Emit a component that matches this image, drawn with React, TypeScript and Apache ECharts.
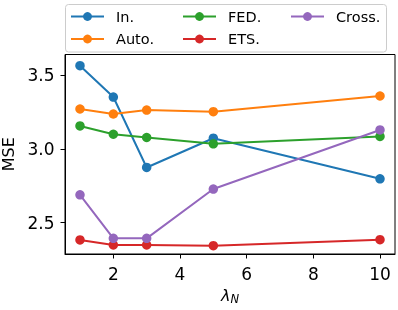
import React, { useEffect, useRef } from "react";
import * as echarts from "echarts";

const lambdas = [1, 2, 3, 5, 10];
const inVals = [3.563, 3.351, 2.874, 3.072, 2.797];
const autoVals = [3.27, 3.236, 3.263, 3.252, 3.358];
const fedVals = [3.155, 3.099, 3.077, 3.034, 3.084];
const etsVals = [2.383, 2.349, 2.349, 2.344, 2.385];
const crossVals = [2.689, 2.394, 2.394, 2.728, 3.128];
const xTicks = [2, 4, 6, 8, 10];
const yTicks = [2.5, 3.0, 3.5];
const seriesNames = ["In.", "Auto.", "FED.", "ETS.", "Cross."];
const colors = ["#1f77b4", "#ff7f0e", "#2ca02c", "#d62728", "#9467bd"];

const FONT = "DejaVu Sans";

export default function App() {
  const ref = useRef<HTMLDivElement>(null);
  useEffect(() => {
    if (!ref.current) return;
    const chart = echarts.init(ref.current, null, { renderer: "svg" });
    const all = [inVals, autoVals, fedVals, etsVals, crossVals];
    const series = all.map((vals, i) => ({
      name: seriesNames[i],
      type: "line",
      data: lambdas.map((x, j) => [x, vals[j]]),
      symbol: "circle",
      symbolSize: 9.5,
      lineStyle: { width: 2, color: colors[i] },
      itemStyle: { color: colors[i] },
      z: 2 + i,
    }));
    // legend positions: columns (matplotlib ncol=3, column-major)
    const legendPos = [
      { left: 70, top: 9 },
      { left: 70, top: 31.5 },
      { left: 182, top: 9 },
      { left: 182, top: 31.5 },
      { left: 290, top: 9 },
    ];
    const legends = seriesNames.map((n, i) => ({
      data: [n],
      left: legendPos[i].left,
      top: legendPos[i].top,
      padding: 0,
      itemWidth: 33,
      itemHeight: 11,
      selectedMode: false,
      textStyle: {
        fontFamily: FONT,
        fontSize: 14.5,
        color: "#000",
        padding: [0, 0, 0, 7],
      },
    }));
    chart.setOption({
      animation: false,
      color: colors,
      textStyle: { fontFamily: FONT },
      grid: {
        left: 65,
        right: 3,
        top: 54.5,
        bottom: 56,
        show: true,
        borderColor: "#000",
        borderWidth: 1,
        backgroundColor: "transparent",
        containLabel: false,
        outerBoundsMode: "none",
      },
      graphic: [
        {
          type: "rect",
          shape: { x: 65.5, y: 4.5, width: 321, height: 47.5, r: 3 },
          style: { fill: "rgba(255,255,255,0.8)", stroke: "#cccccc", lineWidth: 1 },
          z: 0,
        },
      ],
      legend: legends,
      xAxis: {
        type: "value",
        min: 0.55,
        max: 10.45,
        name: "{l|λ}{s|N}",
        nameLocation: "middle",
        nameGap: 31,
        nameTextStyle: {
          rich: {
            l: { fontFamily: FONT, fontSize: 16, fontStyle: "italic", color: "#000" },
            s: { fontFamily: FONT, fontSize: 11.5, fontStyle: "italic", color: "#000", verticalAlign: "bottom", padding: [8, 0, 0, 0] },
          },
        },
        axisLine: { show: true, lineStyle: { color: "#000", width: 1 } },
        axisTick: { show: true, length: 4.5, lineStyle: { color: "#000" }, customValues: xTicks },
        axisLabel: {
          color: "#000",
          fontSize: 17,
          fontFamily: FONT,
          margin: 11,
          customValues: xTicks,
          formatter: (v: number) => String(v),
        },
        splitLine: { show: false },
      },
      yAxis: {
        type: "value",
        min: 2.288,
        max: 3.639,
        name: "MSE",
        nameLocation: "middle",
        nameGap: 46,
        nameTextStyle: { fontFamily: FONT, fontSize: 16, color: "#000" },
        axisLine: { show: true, lineStyle: { color: "#000", width: 1 } },
        axisTick: { show: true, length: 4.5, lineStyle: { color: "#000" }, customValues: yTicks },
        axisLabel: {
          color: "#000",
          fontSize: 17,
          fontFamily: FONT,
          margin: 10.5,
          customValues: yTicks,
          formatter: (v: number) => v.toFixed(1),
        },
        splitLine: { show: false },
      },
      series,
    });
    return () => chart.dispose();
  }, []);
  return (
    <div
      ref={ref}
      style={{ position: "fixed", left: 0, top: 0, width: 398, height: 310 }}
    />
  );
}
